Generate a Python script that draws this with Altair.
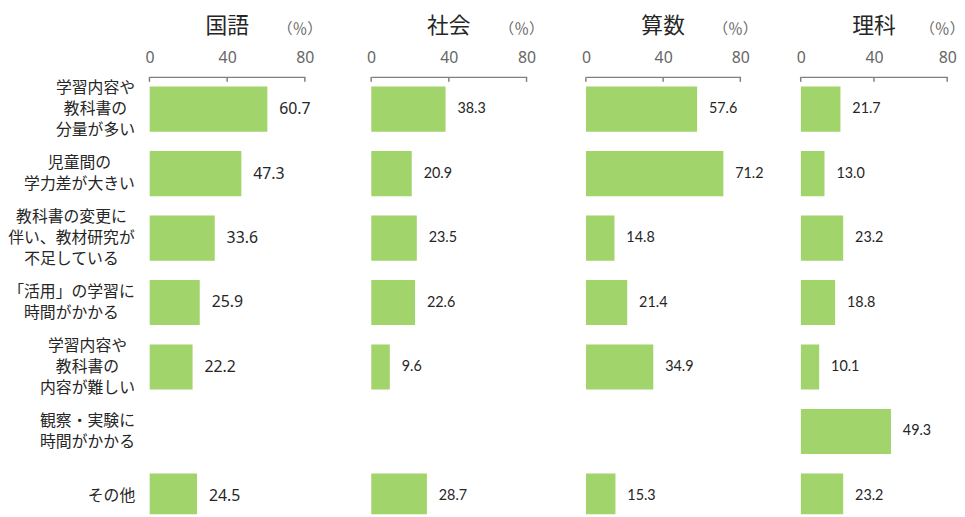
import altair as alt
import pandas as pd

categories = [
    "学習内容や\n教科書の\n分量が多い",
    "児童間の\n学力差が大きい",
    "教科書の変更に\n伴い、教材研究が\n不足している",
    "「活用」の学習に\n時間がかかる",
    "学習内容や\n教科書の\n内容が難しい",
    "観察・実験に\n時間がかかる",
    "その他",
]
subjects = ["国語", "社会", "算数", "理科"]
kokugo = [60.7, 47.3, 33.6, 25.9, 22.2, None, 24.5]
shakai = [38.3, 20.9, 23.5, 22.6, 9.6, None, 28.7]
sansu = [57.6, 71.2, 14.8, 21.4, 34.9, None, 15.3]
rika = [21.7, 13.0, 23.2, 18.8, 10.1, 49.3, 23.2]
tick_values = [0, 40, 80]
unit_label = "（％）"

BAR = "#A1D46A"
DARK = "#262626"
GRAY = "#666666"
AXIS = "#808080"
CJK = "Noto Sans CJK JP"
LINE_H = 21.5


def yenc():
    return alt.Y(
        "cat:N",
        sort=categories,
        scale=alt.Scale(domain=categories, range=[0, 456], paddingInner=0.3, paddingOuter=0.15),
        axis=None,
    )


def xenc(field, rng):
    return alt.X(
        field,
        scale=alt.Scale(domain=[0, 80], range=[0, rng]),
        axis=alt.Axis(
            orient="top", values=tick_values, ticks=False, grid=False,
            domainColor=AXIS, domainWidth=1.5, labelColor=GRAY,
            labelFont="Noto Sans", labelFontSize=16, labelPadding=12,
            labelFlush=False, title=None,
        ),
    )


def panel(subject, values, width, rng, num_font, num_size, with_labels):
    df = pd.DataFrame({"cat": categories, "value": values}).dropna()
    base = alt.Chart(df)
    bars = base.mark_bar(color=BAR, clip=True).encode(x=xenc("value:Q", rng), y=yenc())
    nums = base.mark_text(align="left", baseline="middle", dx=12, font=num_font,
                          fontSize=num_size, color=DARK).encode(
        x=xenc("value:Q", rng), y=yenc(), text=alt.Text("value:Q", format=".1f"))
    tk = alt.Chart(pd.DataFrame({"tick": tick_values})).mark_rule(
        color=AXIS, strokeWidth=1.5).encode(
        x=xenc("tick:Q", rng), y=alt.value(0), y2=alt.value(5))
    ttl = alt.Chart(pd.DataFrame({"t": [subject]})).mark_text(
        font=CJK, fontSize=22, color=DARK, baseline="middle").encode(
        x=alt.X(datum=40), y=alt.value(-51), text="t:N")
    unit = alt.Chart(pd.DataFrame({"t": [unit_label]})).mark_text(
        font=CJK, fontSize=15, color=GRAY, baseline="middle", dx=-5).encode(
        x=alt.X(datum=80), y=alt.value(-48), text="t:N")
    inner = alt.layer(bars, tk, nums, ttl, unit)
    if with_labels:
        labdf = pd.DataFrame({"cat": categories})
        lab_layers = []
        for n in (1, 2, 3):
            lab = alt.Chart(labdf).transform_calculate(
                lines="split(datum.cat, '\\n')"
            ).transform_calculate(
                nlines="length(datum.lines)",
                maxlen="max(length(datum.lines[0]), length(datum.lines) > 1 ? length(datum.lines[1]) : 0, length(datum.lines) > 2 ? length(datum.lines[2]) : 0)",
            ).transform_filter(
                f"datum.nlines == {n}"
            ).transform_calculate(
                px="-14 - datum.maxlen * 8.1"
            ).mark_text(font=CJK, fontSize=16, color=DARK, align="center",
                        baseline="middle", lineHeight=LINE_H,
                        dy=-(n - 1) * LINE_H / 2).encode(
                x=alt.X("px:Q", scale=None, axis=None), y=yenc(), text="lines:N")
            lab_layers.append(lab)
        ch = alt.layer(inner, *lab_layers).resolve_scale(x="independent")
    else:
        ch = inner
    return ch.properties(width=width, height=442)


NUM_FONT = "Lato, 'Noto Sans'"
p1 = panel(subjects[0], kokugo, 164, 157, "Noto Sans", 16, True)
p2 = panel(subjects[1], shakai, 157, 157, NUM_FONT, 14.5, False)
p3 = panel(subjects[2], sansu, 157, 156, NUM_FONT, 14.5, False)
p4 = panel(subjects[3], rika, 148, 148, NUM_FONT, 14.5, False)

chart = alt.hconcat(p1, p2, p3, p4, spacing=60, bounds="flush").properties(
    padding={"left": 8, "top": 13, "right": 0, "bottom": 0},
    background="white",
).configure_view(stroke=None)

chart.save("out.html", embed_options={"renderer": "svg", "actions": False})
